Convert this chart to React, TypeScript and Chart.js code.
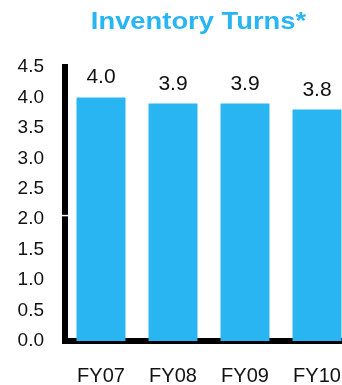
import React, { useEffect, useRef } from "react";
import { Chart, registerables } from "chart.js";

Chart.register(...registerables);

const categories = ["FY07", "FY08", "FY09", "FY10"];
const turns = [4.0, 3.9, 3.9, 3.8];
const yMax = 4.5;
const yStep = 0.5;
const titleText = "Inventory Turns*";
const axisGapValue = 2.06;

const BLUE = "#29b5f1";
const FONT = "'Liberation Sans', Arial, sans-serif";

const titlePlugin = {
  id: "customTitle",
  afterDraw(chart: any) {
    const ctx = chart.ctx;
    ctx.save();
    ctx.fillStyle = BLUE;
    ctx.font = `bold 24px ${FONT}`;
    ctx.textAlign = "center";
    ctx.textBaseline = "alphabetic";
    ctx.translate(198.5, 29);
    ctx.scale(1.14, 1);
    ctx.fillText(titleText, 0, 0);
    ctx.restore();
  },
};

const axisGap = {
  id: "axisGap",
  afterDraw(chart: any) {
    const ctx = chart.ctx;
    const y = chart.scales.y.getPixelForValue(axisGapValue);
    const x = chart.chartArea.left;
    ctx.save();
    ctx.strokeStyle = "#fff";
    ctx.lineWidth = 1.5;
    ctx.beginPath();
    ctx.moveTo(x - 4, y);
    ctx.lineTo(x + 4, y);
    ctx.stroke();
    ctx.restore();
  },
};

const valueLabels = {
  id: "valueLabels",
  afterDatasetsDraw(chart: any) {
    const ctx = chart.ctx;
    const meta = chart.getDatasetMeta(0);
    ctx.save();
    ctx.fillStyle = "#111";
    ctx.font = `21px ${FONT}`;
    ctx.textAlign = "center";
    ctx.textBaseline = "alphabetic";
    meta.data.forEach((bar: any, i: number) => {
      ctx.fillText(turns[i].toFixed(1), bar.x, bar.y - 14);
    });
    ctx.restore();
  },
};

export default function App() {
  const ref = useRef<HTMLCanvasElement>(null);
  useEffect(() => {
    if (!ref.current) return;
    const chart = new Chart(ref.current, {
      type: "bar",
      data: {
        labels: categories,
        datasets: [
          {
            data: turns,
            backgroundColor: BLUE,
            borderWidth: 0,
            categoryPercentage: 1,
            barPercentage: 0.68,
          },
        ],
      },
      options: {
        animation: false,
        responsive: false,
        devicePixelRatio: 1,
        layout: { padding: { top: 67, right: 1, bottom: 0, left: 0 } },
        plugins: {
          legend: { display: false },
          title: { display: false },
          tooltip: { enabled: false },
        },
        scales: {
          x: {
            grid: { display: false, drawTicks: false },
            border: { display: true, color: "#000", width: 6 },
            ticks: {
              color: "#111",
              font: { family: FONT, size: 20 },
              padding: 23,
              maxRotation: 0,
              autoSkip: false,
            },
            afterFit: (scale: any) => {
              scale.height = 44;
              scale.paddingLeft = 0;
              scale.paddingRight = 0;
            },
          },
          y: {
            min: 0,
            max: yMax,
            grid: { display: false, drawTicks: false },
            border: { display: true, color: "#000", width: 6 },
            ticks: {
              stepSize: yStep,
              color: "#111",
              font: { family: FONT, size: 19 },
              padding: 21,
              callback: (v: any) => Number(v).toFixed(1),
            },
            afterFit: (scale: any) => {
              scale.width = 65;
            },
          },
        },
      },
      plugins: [titlePlugin, valueLabels, axisGap],
    });
    return () => chart.destroy();
  }, []);
  return (
    <div
      style={{
        position: "absolute",
        left: 0,
        top: 0,
        width: 342,
        height: 385,
        overflow: "hidden",
        background: "#fff",
      }}
    >
      <div style={{ width: 354, height: 385 }}>
        <canvas ref={ref} width={354} height={385} style={{ width: 354, height: 385, display: "block" }} />
      </div>
    </div>
  );
}
